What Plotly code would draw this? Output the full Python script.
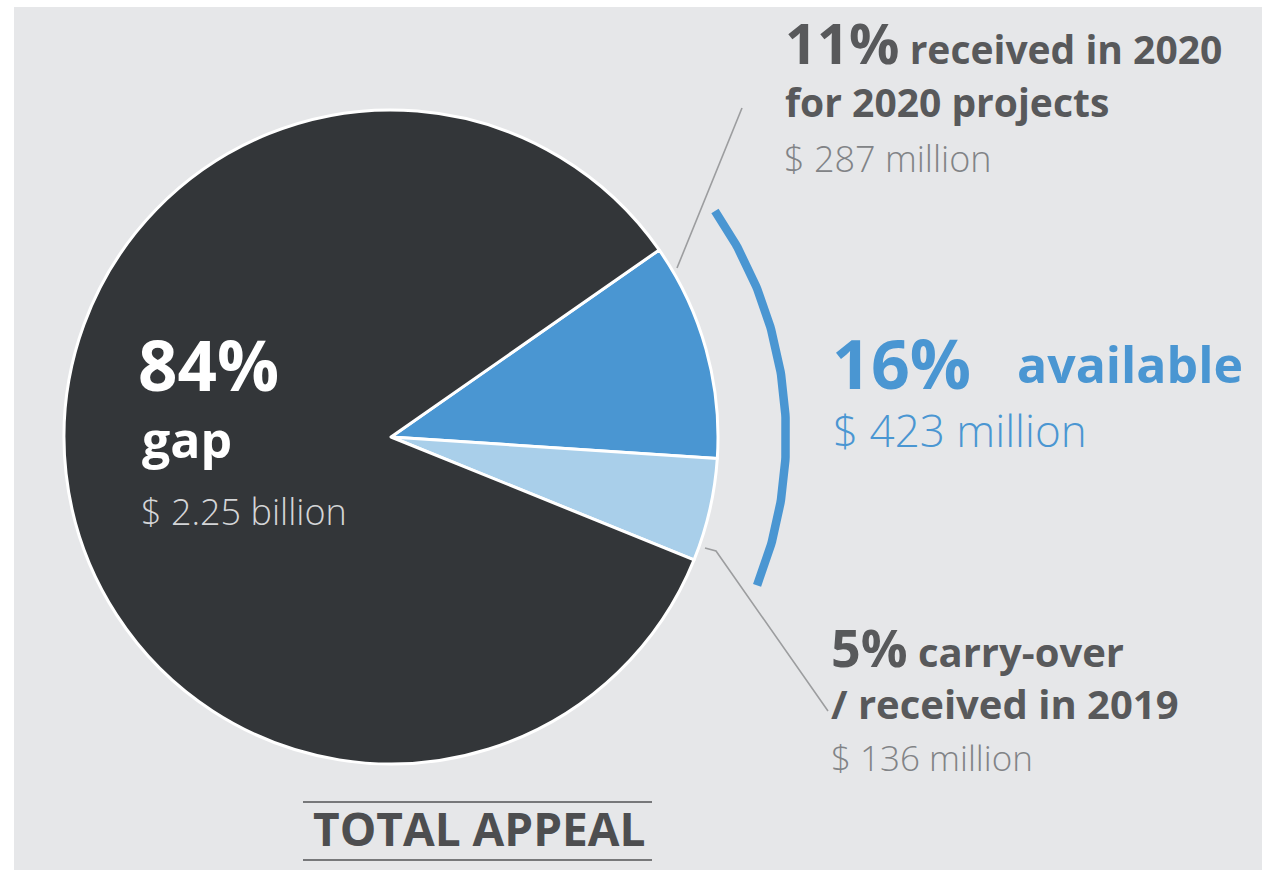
import numpy as np
import plotly.graph_objects as go

# ---------------- data ----------------
slice_labels = ["received in 2020 for 2020 projects", "carry-over / received in 2019", "gap"]
slice_values = [287, 136, 2250]          # US$ million
slice_colors = ["#4a96d2", "#a9cfea", "#333639"]
available_value = 423                     # US$ million (287 + 136)

W, H = 1262, 870
FONT = "Open Sans"
DARK = "#58595b"
MID = "#818386"
BLUE = "#4a96d2"

# pie geometry (pixels)
cx, cy, R = 391, 437, 327
rotation = 55.1
arc_r = 395

fig = go.Figure()

fig.add_trace(go.Pie(
    labels=slice_labels, values=slice_values, sort=False, direction="clockwise",
    rotation=rotation, textinfo="none", hoverinfo="skip", showlegend=False,
    marker=dict(colors=slice_colors, line=dict(color="white", width=3)),
    domain=dict(x=[(cx - R) / W, (cx + R) / W], y=[1 - (cy + R) / H, 1 - (cy - R) / H]),
))

# blue arc spanning the "available" slices
total = sum(slice_values)
a0 = 90 - rotation
a1 = a0 - 360 * available_value / total
ang = np.radians(np.linspace(a0, a1, 120))
fig.add_trace(go.Scatter(
    x=cx + arc_r * np.cos(ang), y=cy - arc_r * np.sin(ang), mode="lines",
    line=dict(color=BLUE, width=8.5), hoverinfo="skip", showlegend=False,
))

shapes = [
    dict(type="rect", xref="x", yref="y", x0=14, y0=7, x1=W + 5, y1=H + 5,
         fillcolor="#e6e7e9", line=dict(width=0), layer="below"),
    dict(type="line", xref="x", yref="y", x0=677, y0=268, x1=742, y1=108,
         line=dict(color="#9c9d9f", width=1.6)),
    dict(type="path", xref="x", yref="y", path="M705,548 L716,551 L828,711",
         line=dict(color="#9c9d9f", width=1.6)),
    dict(type="line", xref="x", yref="y", x0=303, y0=802, x1=652, y1=802,
         line=dict(color="#77787a", width=2)),
    dict(type="line", xref="x", yref="y", x0=303, y0=860, x1=652, y1=860,
         line=dict(color="#77787a", width=2)),
]

def ann(text, x, y, size, color, bold=True, xanchor="left", yanchor="middle", family=FONT):
    return dict(text=text, x=x, y=y, xref="x", yref="y", xanchor=xanchor, yanchor=yanchor,
                align="left", showarrow=False,
                font=dict(family=family, size=size, color=color, weight=700 if bold else 300))

def sp(t, s):
    return f"<span style='font-size:{s}px'>{t}</span>"

annotations = [
    ann(sp("11%", 56) + sp(" received in 2020", 39) + "<br>" + sp("for 2020 projects", 39),
        783, 2, 41, DARK, yanchor="top"),
    ann("$ 287 million", 782, 158, 36, MID, bold=False),
    ann("16%", 830, 362, 68, BLUE),
    ann("available", 1015, 364, 50, BLUE),
    ann("$ 423 million", 831, 430, 44, BLUE, bold=False),
    ann(sp("5%", 52) + " carry-over<br>/ received in 2019", 829, 609, 40, DARK, yanchor="top"),
    ann("$ 136 million", 829, 757, 35, MID, bold=False),
    ann("84%", 136, 364, 69, "white"),
    ann("gap", 140, 439, 50, "white"),
    ann("$ 2.25 billion", 139, 511, 36, "#d4d5d7", bold=False),
    ann("TOTAL APPEAL", 479, 828, 46, "#4d4e50", xanchor="center"),
]

fig.update_layout(
    width=W, height=H, margin=dict(l=0, r=0, t=0, b=0),
    paper_bgcolor="white", plot_bgcolor="rgba(0,0,0,0)",
    xaxis=dict(range=[0, W], visible=False, fixedrange=True, domain=[0, 1]),
    yaxis=dict(range=[H, 0], visible=False, fixedrange=True, domain=[0, 1]),
    shapes=shapes, annotations=annotations, showlegend=False,
)

fig.write_html("out.html", config=dict(displayModeBar=False),
               post_script="document.body.style.margin='0';document.body.style.overflow='hidden';")
